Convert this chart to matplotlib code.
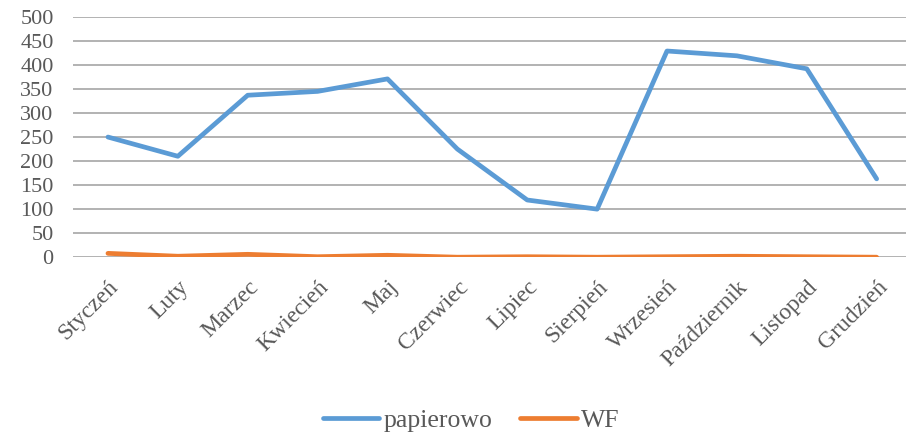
import matplotlib

matplotlib.use("Agg")
import matplotlib.pyplot as plt

months = ["Styczeń", "Luty", "Marzec", "Kwiecień", "Maj", "Czerwiec",
          "Lipiec", "Sierpień", "Wrzesień", "Październik", "Listopad",
          "Grudzień"]
papierowo = [250, 210, 337, 345, 371, 225, 119, 100, 429, 419, 392, 163]
wf = [8, 2, 6, 1, 4, 0, 1, 0, 1, 2, 1, 0]
yticks = [0, 50, 100, 150, 200, 250, 300, 350, 400, 450, 500]

plt.rcParams["font.family"] = ["Liberation Serif", "DejaVu Serif"]

fig = plt.figure(figsize=(9.06, 4.33), dpi=100)
ax = fig.add_axes([0.0806, 0.406, 0.9194, 0.555])

x = range(len(months))
ax.plot(x, papierowo, color="#5b9bd5", lw=3.4, solid_capstyle="round",
        solid_joinstyle="round", label="papierowo", zorder=3)
ax.plot(x, wf, color="#ed7d31", lw=3.4, solid_capstyle="round",
        solid_joinstyle="round", label="WF", zorder=3)

ax.set_xlim(-0.5, 11.42)
ax.set_ylim(0, 500)
ax.set_yticks(yticks)
ax.yaxis.grid(True, color="#a6a6a6", lw=1.2)
ax.set_axisbelow(True)
for s in ax.spines.values():
    s.set_visible(False)
ax.tick_params(axis="both", length=0, colors="#595959")
ax.tick_params(axis="y", pad=14, labelsize=16)
ax.set_xticks(list(x))
ax.set_xticklabels(months, rotation=45, ha="right", rotation_mode="anchor",
                   fontsize=17)
ax.tick_params(axis="x", pad=14)

fig.legend(loc="center", bbox_to_anchor=(0.52, 0.03), ncol=2,
           frameon=False, fontsize=18.5, handlelength=2.2, columnspacing=1.1,
           handletextpad=0.15, labelcolor="#595959")

fig.savefig("out.png", dpi=100)
